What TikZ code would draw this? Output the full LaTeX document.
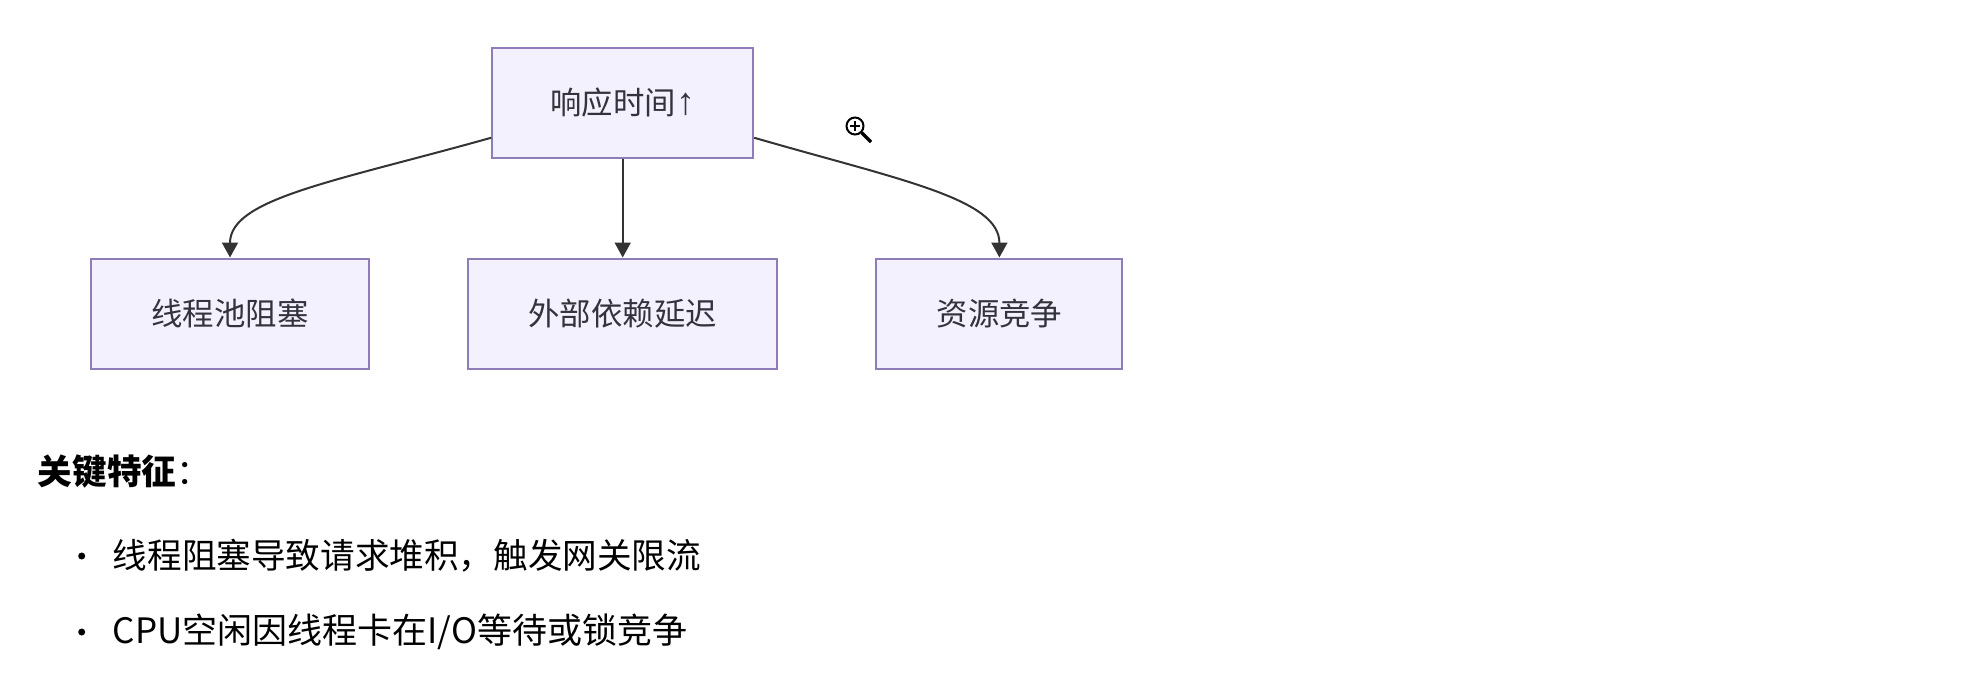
\documentclass[tikz,border=0pt]{standalone}
\usepackage{fontspec}
\setmainfont{Noto Sans CJK SC}
\newfontfamily\arrowfont{Liberation Sans}
\usepackage{pgf,tikz}
\usetikzlibrary{arrows.meta}
\usetikzlibrary{calc,positioning}
\definecolor{boxfill}{HTML}{F4F1FE}
\definecolor{boxline}{HTML}{8F7DB9}
\definecolor{inkdark}{HTML}{33333C}
\definecolor{linkdark}{HTML}{333333}

\begin{document}
\begin{tikzpicture}[thick,->,>={Triangle[length=7.5pt,width=8pt]},x=0.5pt,y=0.5pt]
    \tikzstyle{box}=[rectangle, draw=boxline, line width=1pt, fill=boxfill, text=inkdark, minimum height=55pt, font=\fontsize{15.7}{18}\selectfont]
    \tikzstyle{link}=[color=linkdark, line width=1pt]
    \tikzstyle{line}=[anchor=west, inner sep=0pt, font=\fontsize{17.3}{20}\selectfont]
    \tikzstyle{dot}=[circle, fill=black, inner sep=0pt, minimum size=3.5pt]
    \useasboundingbox (0,0) rectangle (1973,-677);

    \node[box, minimum width=139pt] (block) at (230,-313.5) {线程池阻塞};
    \node[box, minimum width=154.5pt] (depend) [right=48.6pt of block] {外部依赖延迟};
    \node[box, minimum width=123pt] (race) [right=48.6pt of depend] {资源竞争};
    \node[box, minimum width=130.5pt] (resp) [above=49.5pt of depend] {响应时间{\arrowfont\fontsize{19}{18}\selectfont↑}};

    \draw[link] (resp.195) .. controls +(-157,-44) and +(0,59) .. (block.north);
    \draw[link] (resp) -- (depend);
    \draw[link] (resp.-15) .. controls +(145,-42) and +(0,59) .. (race.north);

    \node[line] (title) at (37,-472) {\textbf{关键特征}：};
    \node[line] (first) at (112,-556) {线程阻塞导致请求堆积，触发网关限流};
    \node[line, font=\fontsize{17.5}{20}\selectfont] (second) at (112,-632) {CPU空闲因线程卡在I/O等待或锁竞争};
    \node[dot, left=13pt of first] (dota) {};
    \node[dot, left=13pt of second] (dotb) {};

    % cursor
    \node[circle, draw=black, line width=1pt, minimum size=8.5pt, inner sep=0pt] (lens) at (855,-126) {};
    \coordinate (handle) at (871,-142);
    \draw[-, black, line width=1.6pt] (lens.south east) -- (handle);
    \draw[-, black, line width=1.1pt] ($(lens.center)+(-5,0)$) -- ($(lens.center)+(5,0)$);
    \draw[-, black, line width=1.1pt] ($(lens.center)+(0,-5)$) -- ($(lens.center)+(0,5)$);
\end{tikzpicture}
\end{document}
